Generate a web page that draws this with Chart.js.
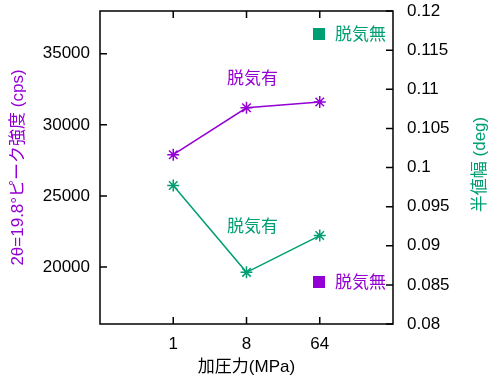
<!DOCTYPE html>
<html>
<head>
<meta charset="utf-8">
<script src="https://cdn.jsdelivr.net/npm/chart.js@4/dist/chart.umd.min.js"></script>
<style>
  html, body { margin: 0; padding: 0; background: #fff; }
</style>
</head>
<body>
<canvas id="chart" width="488" height="376"></canvas>
<script>
// 加圧力ごとの測定値 (脱気有)
const pressures = [1, 8, 64];
const peakIntensity = [27900, 31200, 31600];   // 左軸 (cps)
const halfWidth = [0.0977, 0.0866, 0.0913];    // 右軸 (deg)

// 目盛り
const xTicks = [1, 8, 64];
const yTicks = [20000, 25000, 30000, 35000];
const y2Ticks = [0.08, 0.085, 0.09, 0.095, 0.1, 0.105, 0.11, 0.115, 0.12];
const y2TickLabels = ['0.08', '0.085', '0.09', '0.095', '0.1', '0.105', '0.11', '0.115', '0.12'];

const PURPLE = '#9400D3';
const GREEN = '#009E73';
const FONT = '"Liberation Sans", "Noto Sans CJK JP", sans-serif';

// 枠線・内向きの目盛り・ラベル
const framePlugin = {
  id: 'frame',
  afterDatasetsDraw(chart) {
    const { ctx, chartArea: a, scales } = chart;
    ctx.save();
    ctx.strokeStyle = '#000';
    ctx.lineWidth = 1.5;
    ctx.strokeRect(a.left, a.top, a.right - a.left, a.bottom - a.top);

    ctx.beginPath();
    xTicks.forEach(v => {
      const px = scales.x.getPixelForValue(v);
      ctx.moveTo(px, a.bottom); ctx.lineTo(px, a.bottom - 7);
      ctx.moveTo(px, a.top); ctx.lineTo(px, a.top + 7);
    });
    yTicks.forEach(v => {
      const py = scales.y.getPixelForValue(v);
      ctx.moveTo(a.left, py); ctx.lineTo(a.left + 7, py);
    });
    y2Ticks.forEach(v => {
      const py = scales.y2.getPixelForValue(v);
      ctx.moveTo(a.right, py); ctx.lineTo(a.right - 7, py);
    });
    ctx.stroke();

    // 系列ラベル
    ctx.font = '17px ' + FONT;
    ctx.textAlign = 'center';
    ctx.textBaseline = 'middle';
    ctx.fillStyle = PURPLE;
    ctx.fillText('脱気有', scales.x.getPixelForValue(9.5), scales.y.getPixelForValue(33180));
    ctx.fillStyle = GREEN;
    ctx.fillText('脱気有', scales.x.getPixelForValue(9.5), scales.y2.getPixelForValue(0.0924));

    // 凡例 (脱気無)
    const keys = [
      { color: GREEN, y: a.top + 23 },
      { color: PURPLE, y: a.bottom - 42 }
    ];
    ctx.textAlign = 'left';
    keys.forEach(k => {
      const sx = a.right - 74;
      ctx.fillStyle = k.color;
      ctx.fillRect(sx - 6, k.y - 6, 12, 12);
      ctx.fillText('脱気無', sx + 16, k.y + 1);
    });

    // 右軸タイトル (下から上へ)
    ctx.save();
    ctx.translate(480, (a.top + a.bottom) / 2 - 3);
    ctx.rotate(-Math.PI / 2);
    ctx.textAlign = 'center';
    ctx.fillStyle = GREEN;
    ctx.fillText('半値幅 (deg)', 0, 0);
    ctx.restore();

    ctx.restore();
  }
};

function points(values) {
  return pressures.map((p, i) => ({ x: p, y: values[i] }));
}

// 軸の幅と余白を固定
function fixWidth(w) {
  return s => { s.width = w; s.paddingTop = 0; s.paddingBottom = 0; };
}

new Chart(document.getElementById('chart'), {
  type: 'line',
  data: {
    datasets: [
      {
        label: '脱気有 (強度)',
        data: points(peakIntensity),
        yAxisID: 'y',
        borderColor: PURPLE,
        backgroundColor: PURPLE,
        borderWidth: 1.5,
        pointStyle: 'star',
        pointRadius: 6,
        pointBorderWidth: 1.5,
        fill: false
      },
      {
        label: '脱気有 (半値幅)',
        data: points(halfWidth),
        yAxisID: 'y2',
        borderColor: GREEN,
        backgroundColor: GREEN,
        borderWidth: 1.5,
        pointStyle: 'star',
        pointRadius: 6,
        pointBorderWidth: 1.5,
        fill: false
      }
    ]
  },
  options: {
    responsive: false,
    animation: false,
    devicePixelRatio: 1,
    layout: { padding: { top: 11, left: 0, right: 0, bottom: 0 } },
    plugins: { legend: { display: false }, tooltip: { enabled: false } },
    scales: {
      x: {
        type: 'logarithmic',
        min: 0.125,
        max: 512,
        afterBuildTicks: s => { s.ticks = xTicks.map(v => ({ value: v })); },
        afterFit: s => { s.height = 52; s.paddingLeft = 0; s.paddingRight = 0; },
        grid: { display: false, drawTicks: false },
        border: { display: false },
        ticks: {
          callback: v => String(v),
          color: '#000',
          font: { size: 17, family: FONT },
          padding: 10,
          maxRotation: 0,
          autoSkip: false
        },
        title: {
          display: true,
          text: '加圧力(MPa)',
          color: '#000',
          font: { size: 17, family: FONT, lineHeight: 1 },
          padding: { top: 0, bottom: 0 }
        }
      },
      y: {
        position: 'left',
        min: 16000,
        max: 38000,
        afterBuildTicks: s => { s.ticks = yTicks.map(v => ({ value: v })); },
        afterFit: fixWidth(100),
        grid: { display: false, drawTicks: false },
        border: { display: false },
        ticks: {
          callback: v => String(v),
          color: '#000',
          font: { size: 17, family: FONT },
          padding: 10
        },
        title: {
          display: true,
          text: '2θ=19.8°ピーク強度 (cps)',
          color: PURPLE,
          font: { size: 17, family: FONT },
          padding: { top: 8, bottom: 0 }
        }
      },
      y2: {
        position: 'right',
        min: 0.08,
        max: 0.12,
        afterBuildTicks: s => { s.ticks = y2Ticks.map(v => ({ value: v })); },
        afterFit: fixWidth(95),
        grid: { display: false, drawTicks: false },
        border: { display: false },
        ticks: {
          callback: (v, i) => y2TickLabels[i],
          color: '#000',
          font: { size: 17, family: FONT },
          padding: 14
        }
      }
    }
  },
  plugins: [framePlugin]
});
</script>
</body>
</html>
